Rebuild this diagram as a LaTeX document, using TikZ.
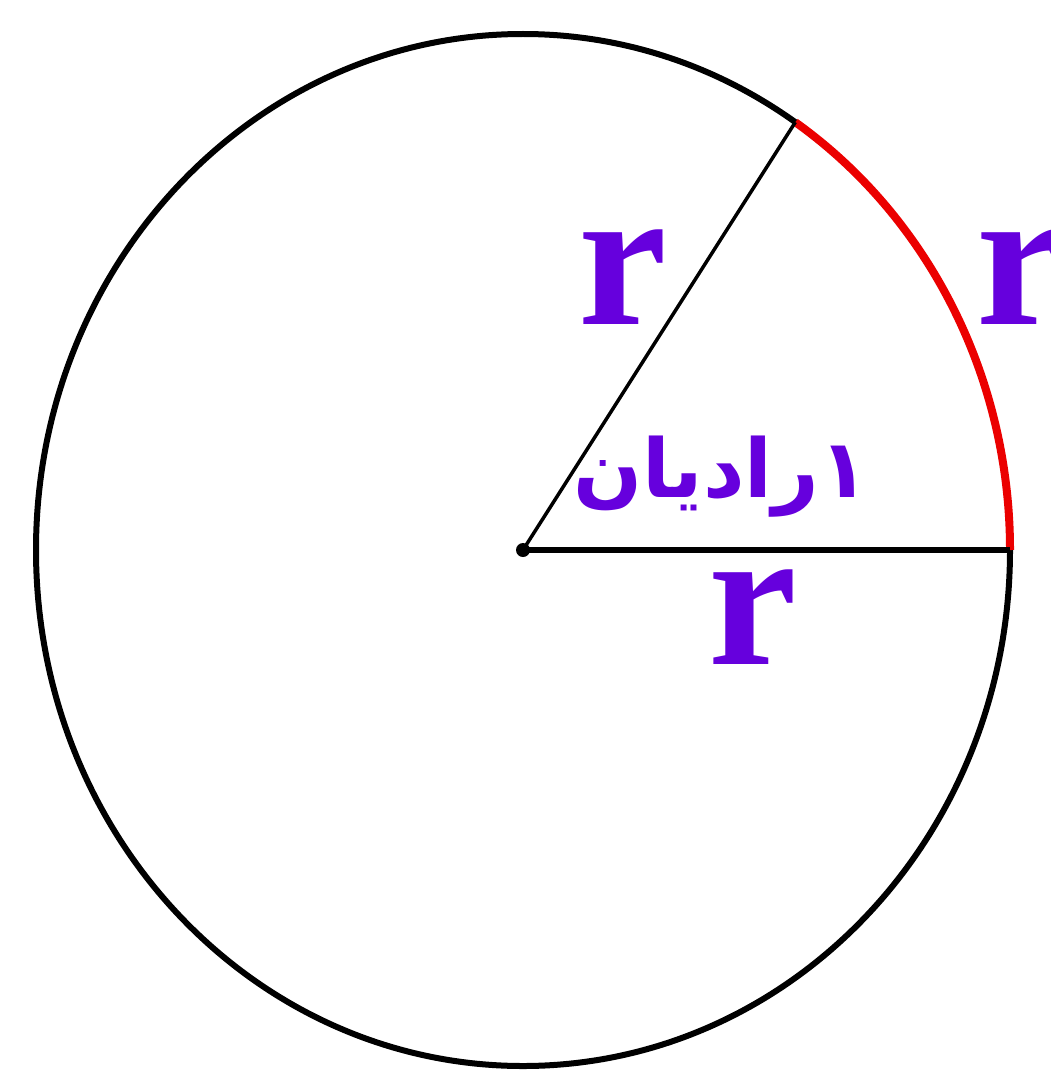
\documentclass[tikz,border=0pt]{standalone}
\usepackage{fontspec}
\setmainfont{Liberation Serif}
\newfontfamily\arabicfont[Script=Arabic]{DejaVu Sans}
\TeXXeTstate=1
\definecolor{lbl}{RGB}{102,0,221}
\definecolor{arcred}{RGB}{235,0,0}
\tikzset{
  rlabel/.style={text=lbl, inner sep=0pt, font=\fontsize{200}{200}\selectfont\bfseries},
  alabel/.style={text=lbl, inner sep=0pt, font=\arabicfont\fontsize{81}{90}\selectfont\bfseries},
}
\begin{document}
\begin{tikzpicture}[x=1pt,y=-1pt]
\useasboundingbox[fill=white] (0,0) rectangle (1051,1070);
\coordinate (O) at (523,550);
\coordinate (A) at (1010,550);
\coordinate (B) at (795.3,122.2);
\draw[line width=6pt] (O) ellipse [x radius=487pt, y radius=516pt];
\draw[arcred, line width=8pt] (A) arc [start angle=0, end angle=56, x radius=487pt, y radius=516pt];
\draw[line width=6pt] (O) -- (A);
\draw[line width=3.5pt] (O) -- (B);
\fill (O) circle [radius=7pt];
\node[rlabel] (r1) at (623,277) {r};
\node[rlabel] (r2) at (753,617) {r};
\node[rlabel] (r3) at (1021,277) {r};
\node[alabel] (rad) at (721,477) {\beginR ۱رادیان\endR};
\end{tikzpicture}
\end{document}
